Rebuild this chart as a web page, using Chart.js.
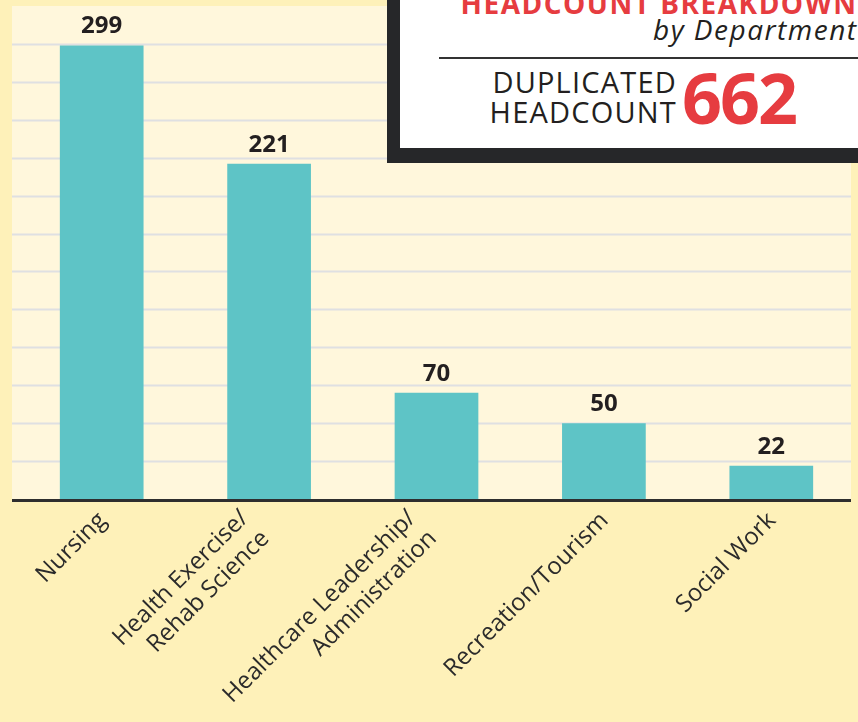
<!DOCTYPE html>
<html>
<head>
<meta charset="utf-8">
<script src="https://cdn.jsdelivr.net/npm/chart.js@4"></script>
<style>
  body { margin: 0; background: #fef1b9; }
  #wrap { position: relative; width: 858px; height: 722px; overflow: hidden; }
  #chart { position: absolute; left: 0; top: 0; }
  #box {
    position: absolute; left: 387px; top: -20px; width: 500px; height: 183px;
    box-sizing: border-box; background: #fff;
    border-left: 13px solid #262729; border-bottom: 15px solid #262729;
  }
  .t { position: absolute; white-space: nowrap; font-family: "Open Sans", sans-serif; }
  #title { right: 0.5px; top: -11px; font-size: 28px; font-weight: 700; color: #e63c40; line-height: 28px; letter-spacing: 1.5px; }
  #sub { right: 0.5px; top: 15px; font-size: 28px; font-style: italic; color: #231f20; line-height: 28px; letter-spacing: 1.5px; }
  #rule { position: absolute; left: 439px; top: 57px; width: 420px; height: 2px; background: #333; }
  #dup1 { right: 181px; top: 67px; font-size: 29px; color: #231f20; line-height: 29px; letter-spacing: 1.2px; }
  #dup2 { right: 181px; top: 97px; font-size: 29px; color: #231f20; line-height: 29px; letter-spacing: 1.2px; }
  #total { left: 682px; top: 62px; font-size: 70px; font-weight: 700; color: #e63c40; line-height: 70px; letter-spacing: -2px; }
</style>
</head>
<body>
<div id="wrap">
  <canvas id="chart" width="858" height="722"></canvas>
  <div id="box"></div>
  <div class="t" id="title">HEADCOUNT BREAKDOWN</div>
  <div class="t" id="sub">by Department</div>
  <div id="rule"></div>
  <div class="t" id="dup1">DUPLICATED</div>
  <div class="t" id="dup2">HEADCOUNT</div>
  <div class="t" id="total">662</div>
</div>
<script>
const departments = [
  "Nursing",
  ["Health Exercise/", "Rehab Science"],
  ["Healthcare Leadership/", "Administration"],
  "Recreation/Tourism",
  "Social Work"
];
const headcounts = [299, 221, 70, 50, 22];
const yMax = 325;
const yStep = 25;

// plot background, gridlines and the dark baseline
const plotBackground = {
  id: "plotBackground",
  beforeDraw(chart) {
    const ctx = chart.ctx;
    const y = chart.scales.y;
    const left = 12, right = 851;
    ctx.save();
    ctx.fillStyle = "#fff7dc";
    ctx.fillRect(left, chart.chartArea.top, right - left, chart.chartArea.bottom - chart.chartArea.top);
    ctx.strokeStyle = "#dfe0e2";
    ctx.lineWidth = 2;
    y.ticks.forEach(t => {
      if (t.value === 0 || t.value === yMax) return;
      const py = Math.round(y.getPixelForValue(t.value)) + 0.5;
      ctx.beginPath();
      ctx.moveTo(left, py);
      ctx.lineTo(right, py);
      ctx.stroke();
    });
    ctx.restore();
  },
  afterDatasetsDraw(chart) {
    const ctx = chart.ctx;
    const x = chart.scales.x;
    const base = chart.scales.y.getPixelForValue(0);
    ctx.save();
    ctx.strokeStyle = "#2e2e2e";
    ctx.lineWidth = 3;
    ctx.beginPath();
    ctx.moveTo(12, base + 1.5);
    ctx.lineTo(851, base + 1.5);
    ctx.stroke();

    // value labels on top of the bars
    ctx.fillStyle = "#231f20";
    ctx.font = "bold 24px 'Open Sans', sans-serif";
    ctx.textAlign = "center";
    ctx.textBaseline = "alphabetic";
    chart.getDatasetMeta(0).data.forEach((bar, i) => {
      ctx.fillText(headcounts[i], bar.x, bar.y - 12);
    });

    // rotated category labels; two-line blocks sit a bit higher and further left
    ctx.fillStyle = "#2b2b2b";
    ctx.font = "24px 'Open Sans', sans-serif";
    ctx.textAlign = "right";
    const lh = 29;
    departments.forEach((lab, i) => {
      const lines = Array.isArray(lab) ? lab : [lab];
      const n = lines.length;
      ctx.save();
      ctx.translate(x.getPixelForValue(i), base);
      ctx.rotate(-Math.PI / 4);
      lines.forEach((line, j) => {
        const p = 20 + (j - (n - 1) / 2) * lh - (n - 1) * 5;
        ctx.fillText(line, -12 - (n - 1) * 16, p);
      });
      ctx.restore();
    });
    ctx.restore();
  }
};

new Chart(document.getElementById("chart"), {
  type: "bar",
  data: {
    labels: departments,
    datasets: [{
      data: headcounts,
      backgroundColor: "#5ec4c6",
      barPercentage: 0.5,
      categoryPercentage: 1
    }]
  },
  options: {
    responsive: false,
    animation: false,
    layout: { padding: { top: 6, right: 3, left: 0, bottom: 0 } },
    plugins: {
      legend: { display: false },
      tooltip: { enabled: false }
    },
    scales: {
      x: {
        grid: { display: false },
        border: { display: false },
        ticks: { display: false },
        afterFit: s => { s.height = 223; }
      },
      y: {
        min: 0,
        max: yMax,
        ticks: { display: false, stepSize: yStep },
        grid: { display: false },
        border: { display: false },
        afterFit: s => { s.width = 18; }
      }
    }
  },
  plugins: [plotBackground]
});
</script>
</body>
</html>
